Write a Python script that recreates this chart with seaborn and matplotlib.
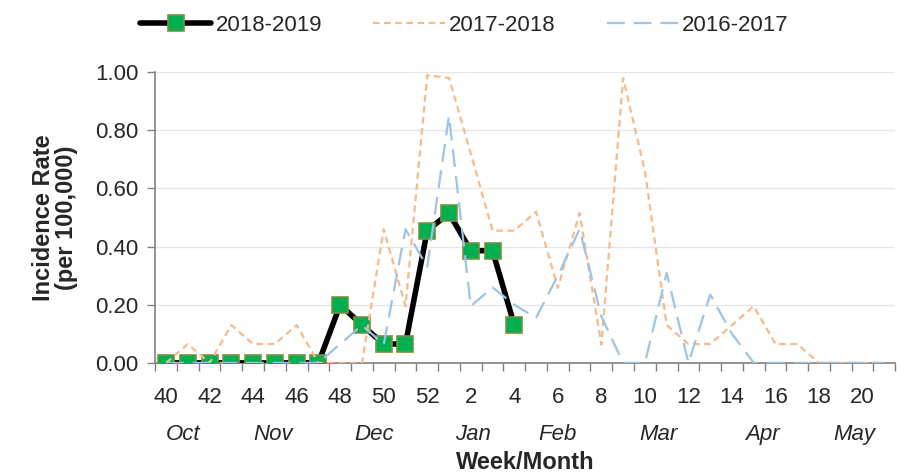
import numpy as np
import pandas as pd
import matplotlib
matplotlib.use("Agg")
import matplotlib.pyplot as plt
import seaborn as sns

weeks = list(range(40, 53)) + list(range(1, 22))
months = ["Oct", "Nov", "Dec", "Jan", "Feb", "Mar", "Apr", "May"]
month_pos = [0.8, 4.9, 9.55, 14.1, 18.0, 22.6, 27.4, 31.6]

s2018_2019 = [0, 0, 0, 0, 0, 0, 0, 0, 0.20, 0.13, 0.065, 0.065, 0.455, 0.515,
              0.386, 0.386, 0.13]
s2017_2018 = [0, 0.065, 0, 0.13, 0.065, 0.065, 0.13, 0, 0, 0, 0.46, 0.195, 0.99,
              0.98, 0.72, 0.455, 0.455, 0.52, 0.258, 0.515, 0.063, 0.98, 0.66,
              0.13, 0.065, 0.065, 0.13, 0.195, 0.065, 0.065, 0, 0, 0, 0]
s2016_2017 = [0, 0, 0, 0, 0, 0, 0, 0, 0.065, 0.13, 0.063, 0.46, 0.33, 0.85,
              0.195, 0.26, 0.2, 0.155, 0.30, 0.46, 0.16, 0, 0, 0.31, 0, 0.235,
              0.10, 0, 0, 0, 0, 0, 0, 0]

sns.set_theme(style="white")
plt.rcParams['font.family'] = ['Liberation Sans', 'DejaVu Sans']

idx = np.arange(len(weeks))
df18 = pd.DataFrame({"x": idx[:len(s2018_2019)], "y": s2018_2019})
df17 = pd.DataFrame({"x": idx, "y": s2017_2018})
df16 = pd.DataFrame({"x": idx, "y": s2016_2017})

fig = plt.figure(figsize=(8.97, 4.75), dpi=100)
ax = fig.add_axes([0.173, 0.236, 0.825, 0.612])

sns.lineplot(data=df18, x="x", y="y", ax=ax, color="black", linewidth=4.0,
             marker="s", markersize=11, markerfacecolor="#00B050",
             markeredgecolor="#77933C", markeredgewidth=1.2, label="2018-2019",
             zorder=3)
sns.lineplot(data=df17, x="x", y="y", ax=ax, color="#F8B98A", linewidth=1.6,
             label="2017-2018", zorder=4)
ax.lines[-1].set_dashes([3, 2])
sns.lineplot(data=df16, x="x", y="y", ax=ax, color="#9DC3E6", linewidth=1.6,
             label="2016-2017", zorder=5)
ax.lines[-1].set_dashes([8, 4])

ax.set_xlim(-0.5, len(weeks) - 0.5)
ax.set_ylim(0, 1.0)
ax.set_yticks(np.arange(0, 1.01, 0.2))
ax.set_yticklabels([f"{v:.2f}" for v in np.arange(0, 1.01, 0.2)], fontsize=16)
ax.set_xticks(idx[::2])
ax.set_xticklabels([str(w) for w in weeks[::2]], fontsize=16)
ax.set_xticks(np.arange(-0.5, len(weeks), 1), minor=True)
ax.tick_params(axis="x", which="major", length=0, pad=17)
ax.tick_params(axis="x", which="minor", length=6, color="#808080", width=1,
               direction="out", bottom=True)
ax.tick_params(axis="y", which="major", length=6, color="#808080", width=1,
               direction="out", left=True, pad=6)

ax.grid(axis="y", color="#E6E6E6", linewidth=1)
ax.set_axisbelow(True)
for side in ["top", "right"]:
    ax.spines[side].set_visible(False)
for side in ["left", "bottom"]:
    ax.spines[side].set_color("#808080")
    ax.spines[side].set_linewidth(1.2)

for m, p in zip(months, month_pos):
    ax.text(p, -0.245, m, transform=ax.get_xaxis_transform(), ha="center",
            va="center", fontsize=16, style="italic")

ax.set_xlabel("Week/Month", fontsize=17, fontweight="bold", labelpad=31)
ax.set_ylabel("Incidence Rate\n(per 100,000)", fontsize=17, fontweight="bold",
              labelpad=12, linespacing=1.05)

ax.legend_.remove()
handles, labels = ax.get_legend_handles_labels()
fig.legend(handles, labels, loc="upper center", bbox_to_anchor=(0.518, 1.01),
           ncol=3, frameon=False, fontsize=16, handlelength=3.2,
           columnspacing=2.3, handletextpad=0.2)

fig.savefig("out.png", dpi=100)
